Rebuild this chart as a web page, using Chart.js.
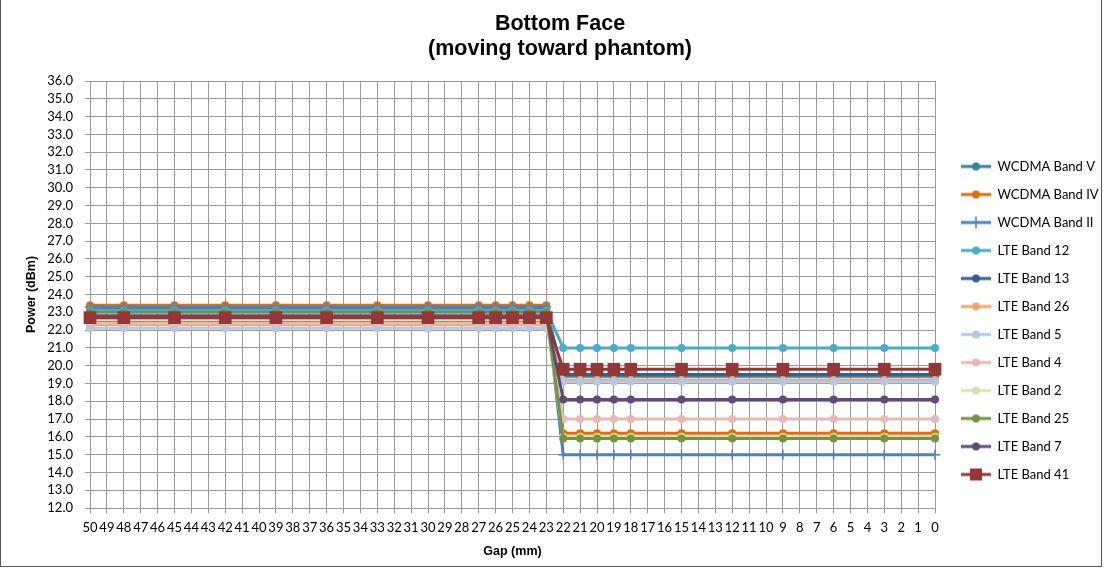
<!DOCTYPE html>
<html>
<head>
<meta charset="utf-8">
<script src="https://cdn.jsdelivr.net/npm/chart.js@4.4.1/dist/chart.umd.min.js"></script>
<style>
  html, body { margin: 0; padding: 0; background: #fff; }
  #wrap { position: relative; width: 1105px; height: 571px; overflow: hidden; }
  #frame { position: absolute; left: 0; top: -1px; width: 1100px; height: 566px; border: 1px solid #595959; pointer-events: none; }
</style>
</head>
<body>
<div id="wrap">
  <canvas id="gapChart" width="1105" height="571"></canvas>
  <div id="frame"></div>
</div>
<script>
// x axis categories (gap in mm, counting down)
const gapLabels = ['50','49','48','47','46','45','44','43','42','41','40','39','38','37','36','35','34','33','32','31','30',
  '29','28','27','26','25','24','23','22','21','20','19','18','17','16','15','14','13','12','11','10',
  '9','8','7','6','5','4','3','2','1','0'];

// gaps where a measurement was taken
const measuredGaps = ['50','48','45','42','39','36','33','30','27','26','25','24','23',
  '22','21','20','19','18','15','12','9','6','3','0'];

// power (dBm) at each measured gap
const wcdmaBandV  = [23.2,23.2,23.2,23.2,23.2,23.2,23.2,23.2,23.2,23.2,23.2,23.2,23.2, 19.4,19.4,19.4,19.4,19.4,19.4,19.4,19.4,19.4,19.4,19.4];
const wcdmaBandIV = [23.4,23.4,23.4,23.4,23.4,23.4,23.4,23.4,23.4,23.4,23.4,23.4,23.4, 16.2,16.2,16.2,16.2,16.2,16.2,16.2,16.2,16.2,16.2,16.2];
const wcdmaBandII = [23.3,23.3,23.3,23.3,23.3,23.3,23.3,23.3,23.3,23.3,23.3,23.3,23.3, 15.0,15.0,15.0,15.0,15.0,15.0,15.0,15.0,15.0,15.0,15.0];
const lteBand12   = [23.1,23.1,23.1,23.1,23.1,23.1,23.1,23.1,23.1,23.1,23.1,23.1,23.1, 21.0,21.0,21.0,21.0,21.0,21.0,21.0,21.0,21.0,21.0,21.0];
const lteBand13   = [22.5,22.5,22.5,22.5,22.5,22.5,22.5,22.5,22.5,22.5,22.5,22.5,22.5, 19.5,19.5,19.5,19.5,19.5,19.5,19.5,19.5,19.5,19.5,19.5];
const lteBand26   = [22.3,22.3,22.3,22.3,22.3,22.3,22.3,22.3,22.3,22.3,22.3,22.3,22.3, 19.2,19.2,19.2,19.2,19.2,19.2,19.2,19.2,19.2,19.2,19.2];
const lteBand5    = [22.1,22.1,22.1,22.1,22.1,22.1,22.1,22.1,22.1,22.1,22.1,22.1,22.1, 19.1,19.1,19.1,19.1,19.1,19.1,19.1,19.1,19.1,19.1,19.1];
const lteBand4    = [22.4,22.4,22.4,22.4,22.4,22.4,22.4,22.4,22.4,22.4,22.4,22.4,22.4, 17.0,17.0,17.0,17.0,17.0,17.0,17.0,17.0,17.0,17.0,17.0];
const lteBand2    = [22.6,22.6,22.6,22.6,22.6,22.6,22.6,22.6,22.6,22.6,22.6,22.6,22.6, 16.0,16.0,16.0,16.0,16.0,16.0,16.0,16.0,16.0,16.0,16.0];
const lteBand25   = [23.0,23.0,23.0,23.0,23.0,23.0,23.0,23.0,23.0,23.0,23.0,23.0,23.0, 15.9,15.9,15.9,15.9,15.9,15.9,15.9,15.9,15.9,15.9,15.9];
const lteBand7    = [22.8,22.8,22.8,22.8,22.8,22.8,22.8,22.8,22.8,22.8,22.8,22.8,22.8, 18.1,18.1,18.1,18.1,18.1,18.1,18.1,18.1,18.1,18.1,18.1];
const lteBand41   = [22.7,22.7,22.7,22.7,22.7,22.7,22.7,22.7,22.7,22.7,22.7,22.7,22.7, 19.8,19.8,19.8,19.8,19.8,19.8,19.8,19.8,19.8,19.8,19.8];

const series = [
  { name: 'WCDMA Band V',  values: wcdmaBandV,  color: '#31849B', marker: 'circle' },
  { name: 'WCDMA Band IV', values: wcdmaBandIV, color: '#E46C0A', marker: 'circle' },
  { name: 'WCDMA Band II', values: wcdmaBandII, color: '#4F81BD', marker: 'cross' },
  { name: 'LTE Band 12',   values: lteBand12,   color: '#4BACC6', marker: 'circle' },
  { name: 'LTE Band 13',   values: lteBand13,   color: '#365F91', marker: 'circle' },
  { name: 'LTE Band 26',   values: lteBand26,   color: '#F9A56A', marker: 'circle' },
  { name: 'LTE Band 5',    values: lteBand5,    color: '#B4C7E4', marker: 'circle' },
  { name: 'LTE Band 4',    values: lteBand4,    color: '#E6B9B8', marker: 'circle' },
  { name: 'LTE Band 2',    values: lteBand2,    color: '#D3E2B7', marker: 'circle' },
  { name: 'LTE Band 25',   values: lteBand25,   color: '#77933C', marker: 'circle' },
  { name: 'LTE Band 7',    values: lteBand7,    color: '#604A7B', marker: 'circle' },
  { name: 'LTE Band 41',   values: lteBand41,   color: '#953735', marker: 'rect' }
];

// little line+marker picture for the legend
function legendSwatch(color, marker) {
  const c = document.createElement('canvas');
  c.width = 41; c.height = 14;
  const g = c.getContext('2d');
  g.strokeStyle = color; g.fillStyle = color; g.lineWidth = 3;
  g.beginPath(); g.moveTo(11, 7); g.lineTo(41, 7); g.stroke();
  if (marker === 'rect') {
    g.fillRect(20, 1, 12, 12);
  } else if (marker === 'cross') {
    g.lineWidth = 1.5;
    g.beginPath(); g.moveTo(26, 1); g.lineTo(26, 13); g.stroke();
  } else {
    g.beginPath(); g.arc(26, 7, 4, 0, Math.PI * 2); g.fill();
  }
  return c;
}
const swatches = series.map(s => legendSwatch(s.color, s.marker));

const datasets = series.map((s, i) => ({
  label: s.name,
  data: measuredGaps.map((gap, j) => ({ x: gap, y: s.values[j] })),
  borderColor: s.color,
  backgroundColor: s.color,
  borderWidth: 3,
  pointStyle: s.marker,
  pointRadius: s.marker === 'rect' ? 9 : (s.marker === 'cross' ? 5 : 4),
  pointBorderWidth: s.marker === 'cross' ? 1.5 : 0,
  pointBackgroundColor: s.color,
  pointBorderColor: s.color,
  tension: 0,
  order: series.length - i   // later series drawn on top, like the original
}));

// legend box: fixed width on the right, list starts a bit lower
const LEGEND_W = 165;
const LEGEND_TOP = 145;
const legendPlacement = {
  id: 'legendPlacement',
  beforeUpdate(chart) {
    const lg = chart.legend;
    if (lg && !lg._fixed) {
      const fit = lg.fit.bind(lg);
      lg.fit = function () { fit(); this.width = LEGEND_W; };
      lg._fixed = true;
    }
  },
  afterLayout(chart) {
    if (chart.legend) chart.legend.top = LEGEND_TOP;
  }
};

const gridColor = '#9a9a9a';
const ctx = document.getElementById('gapChart').getContext('2d');

const gapChart = new Chart(ctx, {
  type: 'line',
  data: { labels: gapLabels, datasets: datasets },
  plugins: [legendPlacement],
  options: {
    responsive: false,
    animation: false,
    layout: { padding: { left: 20, right: 5, top: 8, bottom: 8 } },
    plugins: {
      title: {
        display: true,
        text: ['Bottom Face', '(moving toward phantom)'],
        color: '#000',
        font: { family: 'Liberation Sans', size: 21.5, weight: 'bold', lineHeight: '25px' },
        padding: { top: 4, bottom: 19 }
      },
      legend: {
        position: 'right',
        align: 'start',
        labels: {
          usePointStyle: true,
          pointStyleWidth: 41,
          padding: 15,
          color: '#000',
          font: { family: 'Lato', size: 13 },
          generateLabels(chart) {
            const items = Chart.defaults.plugins.legend.labels.generateLabels(chart);
            items.forEach(it => { it.pointStyle = swatches[it.datasetIndex]; });
            return items;
          },
          sort: (a, b) => a.datasetIndex - b.datasetIndex
        }
      },
      tooltip: { enabled: false }
    },
    scales: {
      x: {
        type: 'category',
        offset: false,
        afterFit(scale) { scale.height = 55; },
        ticks: { color: '#000', autoSkip: false, maxRotation: 0, minRotation: 0, padding: 7,
                 font: { family: 'Lato', size: 13 } },
        grid: { color: gridColor, tickColor: gridColor, tickLength: 5 },
        border: { color: gridColor },
        title: { display: true, text: 'Gap (mm)', color: '#000',
                 font: { family: 'Liberation Sans', size: 12.5, weight: 'bold' }, padding: { top: 4, bottom: 4 } }
      },
      y: {
        min: 12,
        max: 36,
        afterFit(scale) { scale.width = 70; },
        ticks: { stepSize: 1, autoSkip: false, color: '#000', padding: 12, font: { family: 'Lato', size: 13 },
                 callback: v => Number(v).toFixed(1) },
        grid: { color: gridColor, tickColor: gridColor, tickLength: 5 },
        border: { color: gridColor },
        title: { display: true, text: 'Power (dBm)', color: '#000',
                 font: { family: 'Liberation Sans', size: 12.5, weight: 'bold' }, padding: { top: 4, bottom: 4 } }
      }
    }
  }
});
</script>
</body>
</html>
